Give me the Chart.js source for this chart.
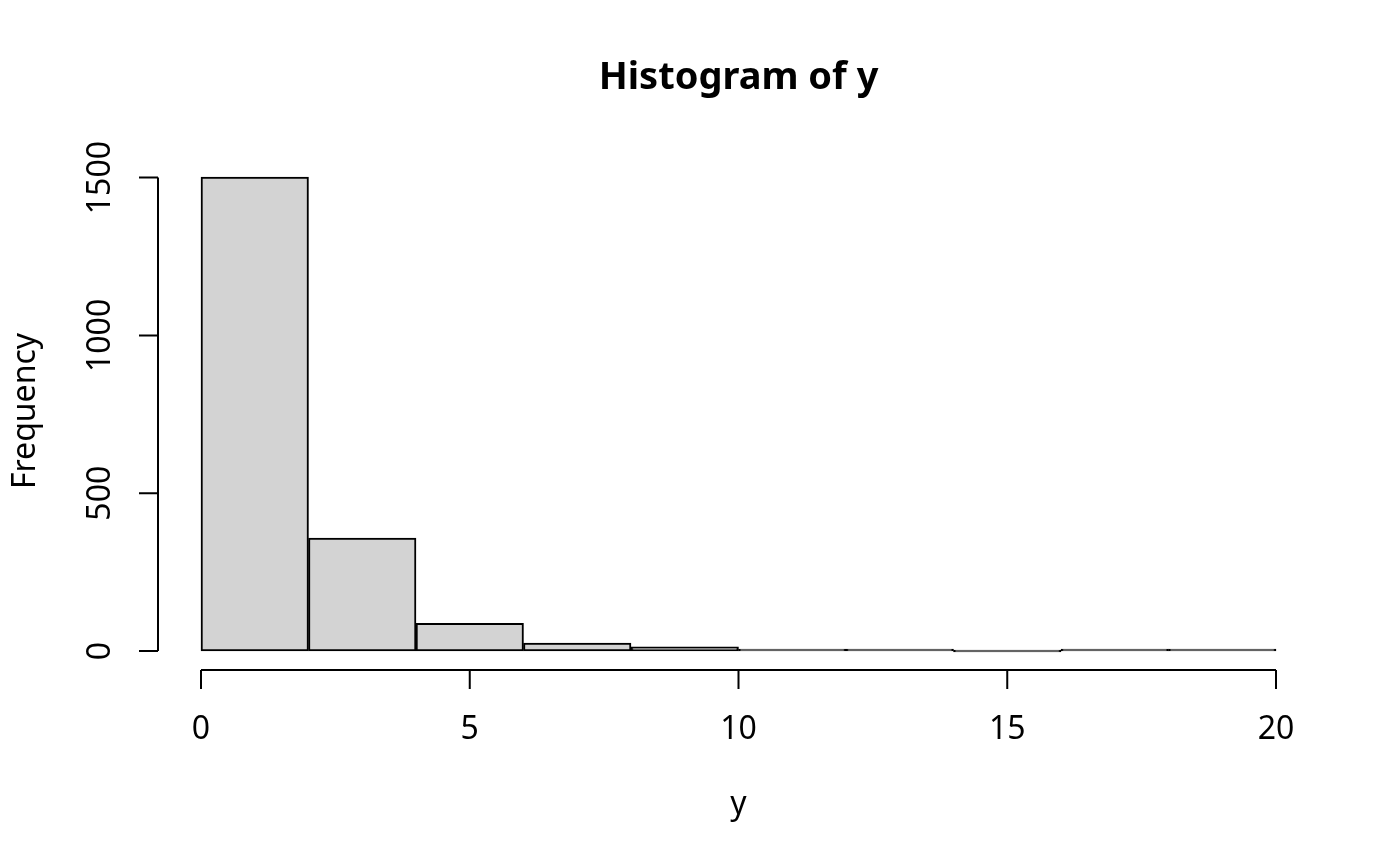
<!DOCTYPE html>
<html>
<head>
<meta charset="utf-8">
<title>Histogram of y</title>
<script src="https://cdn.jsdelivr.net/npm/chart.js@4.4.1/dist/chart.umd.min.js"></script>
<style>
    body { margin: 0; background: #ffffff; }
    #wrap { width: 1400px; height: 866px; position: relative; }
</style>
</head>
<body>
<div id="wrap"><canvas id="histChart"></canvas></div>
<script>
// bin edges and counts
const binEdges = [0, 2, 4, 6, 8, 10, 12, 14, 16, 18, 20];
const binCounts = [1502, 358, 88, 25, 13, 6, 2, 0, 3, 2];

const xTicks = [0, 5, 10, 15, 20];
const yTicks = [0, 500, 1000, 1500];

const chartTitle = "Histogram of y";
const xTitle = "y";
const yTitle = "Frequency";

const FONT = "'Noto Sans', 'Open Sans', sans-serif";

// R pads each axis range by 4%
let maxCount = Math.max(...binCounts);
let xLo = binEdges[0], xHi = binEdges[binEdges.length - 1];
let xPad = (xHi - xLo) * 0.04;
let yPad = maxCount * 0.04;

// bars sit at the middle of each bin
let barPoints = binCounts.map((c, i) => ({ x: (binEdges[i] + binEdges[i + 1]) / 2, y: c }));

// R style axes: detached, line runs only from first to last tick
const rAxes = {
    id: 'rAxes',
    afterDraw(chart) {
        const ctx = chart.ctx;
        const area = chart.chartArea;
        const xs = chart.scales.x;
        const ys = chart.scales.y;
        const tickLen = 19;

        ctx.save();
        ctx.strokeStyle = '#000';
        ctx.lineWidth = 2;
        ctx.fillStyle = '#000';

        // x axis
        let yb = area.bottom;
        ctx.beginPath();
        ctx.moveTo(xs.getPixelForValue(xTicks[0]), yb);
        ctx.lineTo(xs.getPixelForValue(xTicks[xTicks.length - 1]), yb);
        xTicks.forEach(t => {
            let px = xs.getPixelForValue(t);
            ctx.moveTo(px, yb);
            ctx.lineTo(px, yb + tickLen);
        });
        ctx.stroke();

        ctx.font = `32px ${FONT}`;
        ctx.textAlign = 'center';
        ctx.textBaseline = 'alphabetic';
        xTicks.forEach(t => {
            ctx.fillText(String(t), xs.getPixelForValue(t), 739);
        });

        // y axis
        let xl = area.left;
        ctx.beginPath();
        ctx.moveTo(xl, ys.getPixelForValue(yTicks[0]));
        ctx.lineTo(xl, ys.getPixelForValue(yTicks[yTicks.length - 1]));
        yTicks.forEach(t => {
            let py = ys.getPixelForValue(t);
            ctx.moveTo(xl, py);
            ctx.lineTo(xl - tickLen, py);
        });
        ctx.stroke();

        yTicks.forEach(t => {
            ctx.save();
            ctx.translate(110, ys.getPixelForValue(t));
            ctx.rotate(-Math.PI / 2);
            ctx.fillText(String(t), 0, 0);
            ctx.restore();
        });

        // axis titles
        ctx.fillText(xTitle, (area.left + area.right) / 2, 814);

        ctx.save();
        ctx.translate(35, 411);
        ctx.rotate(-Math.PI / 2);
        ctx.fillText(yTitle, 0, 0);
        ctx.restore();

        // main title
        ctx.font = `bold 38px ${FONT}`;
        ctx.fillText(chartTitle, (area.left + area.right) / 2, 89);

        ctx.restore();
    }
};

const ctx = document.getElementById('histChart').getContext('2d');
const histChart = new Chart(ctx, {
    type: 'bar',
    data: {
        datasets: [{
            label: 'Frequency',
            data: barPoints,
            backgroundColor: '#d3d3d3',
            borderColor: '#000000',
            borderWidth: 2,
            borderSkipped: false,
            minBarLength: 2,
            barThickness: 'flex',
            barPercentage: 1,
            categoryPercentage: 1
        }]
    },
    options: {
        responsive: true,
        maintainAspectRatio: false,
        animation: false,
        layout: {
            padding: { left: 158, right: 81, top: 158, bottom: 196 }
        },
        plugins: {
            legend: { display: false },
            tooltip: { enabled: false }
        },
        scales: {
            x: {
                type: 'linear',
                display: false,
                offset: false,
                min: xLo - xPad,
                max: xHi + xPad
            },
            y: {
                display: false,
                min: -yPad,
                max: maxCount + yPad
            }
        }
    },
    plugins: [rAxes]
});
</script>
</body>
</html>
